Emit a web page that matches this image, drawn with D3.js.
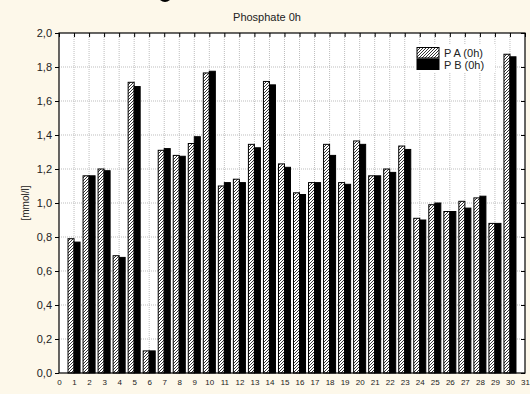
<!DOCTYPE html>
<html><head><meta charset="utf-8">
<script src="https://cdn.jsdelivr.net/npm/d3@7"></script>
<style>
html,body{margin:0;padding:0;background:#fdf8ea;}
svg{display:block;}
text{font-family:"Liberation Sans",Arial,sans-serif;}
</style></head>
<body><svg id="c" width="530" height="394"></svg>
<script>
const categories = d3.range(1, 31);
const seriesNames = ["P A (0h)", "P B (0h)"];
const valuesA = [0.79,1.16,1.20,0.69,1.71,0.13,1.31,1.28,1.35,1.765,1.10,1.14,1.345,1.715,1.23,1.06,1.12,1.345,1.12,1.365,1.16,1.20,1.335,0.91,0.99,0.95,1.01,1.03,0.88,1.875];
const valuesB = [0.77,1.16,1.19,0.68,1.685,0.13,1.32,1.275,1.39,1.775,1.12,1.12,1.325,1.695,1.21,1.05,1.12,1.28,1.11,1.345,1.16,1.18,1.315,0.90,1.00,0.95,0.97,1.04,0.88,1.86];
const yTicks = [0,0.2,0.4,0.6,0.8,1.0,1.2,1.4,1.6,1.8,2.0];
const xTicks = d3.range(0, 32);
const title = "Phosphate 0h";
const yLabel = "[mmol/l]";

const svg = d3.select("#c");
const L = 59, R = 525, T = 33, B = 373;
const x = d3.scaleLinear().domain([0, 31]).range([L, R]);
const y = d3.scaleLinear().domain([0, 2]).range([B, T]);
const fmt = v => d3.format(".1f")(v).replace(".", ",");

const defs = svg.append("defs");
const pat = defs.append("pattern").attr("id", "hatch").attr("patternUnits", "userSpaceOnUse")
  .attr("width", 3).attr("height", 3);
pat.append("rect").attr("width", 3).attr("height", 3).attr("fill", "#fff");
pat.append("path").attr("d", "M-1,1 L1,-1 M0,3 L3,0 M2,4 L4,2").attr("stroke", "#000").attr("stroke-width", 0.8);

// cut-off glyph remnant at top edge (from an upper title outside the frame)
svg.append("path").attr("d", "M160,0 Q165,4 170,0 Z").attr("fill", "#000");

// plot bg
svg.append("rect").attr("x", L).attr("y", T).attr("width", R - L).attr("height", B - T).attr("fill", "#fff");

// grid
const g = svg.append("g");
g.selectAll(".vg").data(xTicks.slice(1, -1)).enter().append("line")
  .attr("x1", d => x(d)).attr("x2", d => x(d)).attr("y1", T).attr("y2", B)
  .attr("stroke", "#bdbdbd").attr("stroke-width", 1).attr("stroke-dasharray", "1,1");
g.selectAll(".hg").data(yTicks.slice(1, -1)).enter().append("line")
  .attr("x1", L).attr("x2", R).attr("y1", d => y(d)).attr("y2", d => y(d))
  .attr("stroke", "#bdbdbd").attr("stroke-width", 1).attr("stroke-dasharray", "1,1");

// bars
const bw = 0.4;
svg.append("g").selectAll("rect").data(categories).enter().append("rect")
  .attr("x", (d) => x(d - bw)).attr("width", x(bw) - x(0))
  .attr("y", (d, i) => y(valuesA[i])).attr("height", (d, i) => y(0) - y(valuesA[i]))
  .attr("fill", "url(#hatch)").attr("stroke", "#000").attr("stroke-width", 1);
svg.append("g").selectAll("rect").data(categories).enter().append("rect")
  .attr("x", (d) => x(d)).attr("width", x(bw) - x(0))
  .attr("y", (d, i) => y(valuesB[i])).attr("height", (d, i) => y(0) - y(valuesB[i]))
  .attr("fill", "#000").attr("stroke", "#000").attr("stroke-width", 1);

// axes
const yAx = svg.append("g").attr("transform", `translate(${L},0)`)
  .call(d3.axisLeft(y).tickValues(yTicks).tickFormat(fmt).tickSize(4).tickPadding(3));
yAx.select(".domain").remove();
yAx.selectAll("text").attr("font-size", 11).attr("fill", "#222").style("font-family", "Liberation Sans, Arial, sans-serif");
const yAxR = svg.append("g").attr("transform", `translate(${R},0)`)
  .call(d3.axisLeft(y).tickValues(yTicks).tickFormat("").tickSize(4));
yAxR.select(".domain").remove();
const xAxT = svg.append("g").attr("transform", `translate(0,${T})`)
  .call(d3.axisBottom(x).tickValues(xTicks).tickFormat("").tickSize(4));
xAxT.select(".domain").remove();
const xAx = svg.append("g").attr("transform", `translate(0,${B})`)
  .call(d3.axisBottom(x).tickValues(xTicks).tickFormat(d => d).tickSize(0).tickPadding(6));
xAx.select(".domain").remove();
xAx.selectAll("text").attr("font-size", 8).attr("fill", "#222").style("font-family", "Liberation Sans, Arial, sans-serif");

// frame
svg.append("rect").attr("x", L).attr("y", T).attr("width", R - L).attr("height", B - T)
  .attr("fill", "none").attr("stroke", "#000").attr("stroke-width", 1.2);

// title & y label
svg.append("text").attr("x", 267).attr("y", 21).attr("text-anchor", "middle").attr("font-size", 11).attr("fill", "#222").text(title);
svg.append("text").attr("transform", "translate(29,203) rotate(-90)").attr("text-anchor", "middle")
  .attr("font-size", 10).attr("fill", "#222").text(yLabel);

// legend
const lg = svg.append("g");
lg.append("rect").attr("x", 415).attr("y", 45).attr("width", 80).attr("height", 28).attr("fill", "#fff");
const fills = ["url(#hatch)", "#000"];
seriesNames.forEach((n, i) => {
  lg.append("rect").attr("x", 417).attr("y", 47.5 + i * 11.5).attr("width", 22).attr("height", 10.5)
    .attr("fill", fills[i]).attr("stroke", "#000").attr("stroke-width", 1);
  lg.append("text").attr("x", 444).attr("y", 57 + i * 12).attr("font-size", 11).attr("fill", "#222").text(n);
});
</script></body></html>
